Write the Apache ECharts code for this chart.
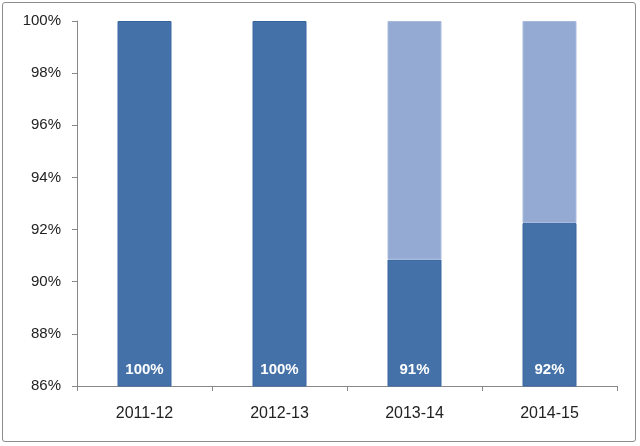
<!DOCTYPE html>
<html><head><meta charset="utf-8">
<script src="https://cdn.jsdelivr.net/npm/echarts@6/dist/echarts.min.js"></script>
<style>
html,body{margin:0;padding:0;background:#fff;}
#wrap{position:absolute;left:2px;top:2px;width:634px;height:440px;border:1px solid #8c8c8c;border-radius:3px;box-sizing:border-box;}
#c{position:absolute;left:0;top:0;width:640px;height:446px;}
</style></head>
<body>
<div id="wrap"></div>
<div id="c"></div>
<script>
var categories = ['2011-12','2012-13','2013-14','2014-15'];
var rateValues = [100, 100, 90.85, 92.25];
var remainderValues = rateValues.map(function(v){ var r = +(100 - v).toFixed(2); return r > 0 ? r : '-'; });
var yTicks = [86, 88, 90, 92, 94, 96, 98, 100];

var chart = echarts.init(document.getElementById('c'));
chart.setOption({
  animation:false,
  grid:{left:77,right:23,top:21,bottom:60},
  xAxis:{
    type:'category', data:categories,
    axisLine:{lineStyle:{color:'#888'}},
    axisTick:{show:true,length:5,lineStyle:{color:'#888'},alignWithLabel:false},
    axisLabel:{color:'#222',fontSize:16,fontFamily:'Liberation Sans',margin:20}
  },
  yAxis:{
    type:'value', min:86, max:100, interval:2,
    axisLine:{show:true,lineStyle:{color:'#888'}},
    axisTick:{show:true,length:5,lineStyle:{color:'#888'}},
    splitLine:{show:false},
    axisLabel:{color:'#222',fontSize:15,fontFamily:'Liberation Sans',margin:16,formatter:'{value}%'}
  },
  series:[
    {type:'bar',stack:'s',data:rateValues,barWidth:'40%',
     itemStyle:{color:'#4472A8',borderColor:'#3a66a0',borderWidth:1},
     label:{show:true,position:'insideBottom',distance:9,color:'#fff',fontWeight:'bold',fontSize:15,fontFamily:'Liberation Sans',
       formatter:function(p){return Math.round(p.value)+'%';}}
    },
    {type:'bar',stack:'s',data:remainderValues,barWidth:'40%',
     itemStyle:{color:'#95AAD3',borderColor:'#a9bbdd',borderWidth:1}}
  ]
});
</script>
</body></html>
